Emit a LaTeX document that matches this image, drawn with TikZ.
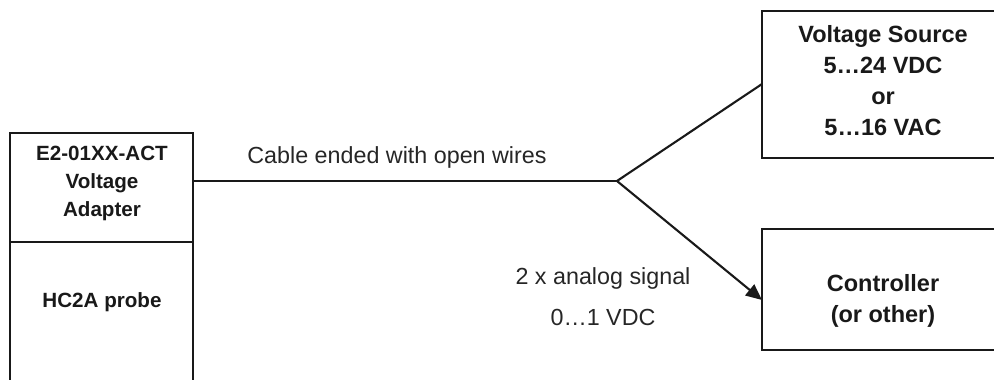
\documentclass[tikz,border=0pt]{standalone}
\usepackage{fontspec}
\setmainfont{Liberation Sans}
\usetikzlibrary{arrows.meta}
\begin{document}
\begin{tikzpicture}[x=1pt,y=-1pt,
  line/.style={line width=2.1pt, color=black!90},
  bigtxt/.style={font=\fontsize{23.5}{31}\selectfont\bfseries, align=center, inner sep=0pt, text=black!90},
  smalltxt/.style={font=\fontsize{20.6}{28}\selectfont\bfseries, align=center, inner sep=0pt, text=black!90},
  lbl/.style={font=\fontsize{23.3}{41}\selectfont, align=center, inner sep=0pt, text=black!85}]
\useasboundingbox (0,0) rectangle (994,380);
% left box
\coordinate (lbl0) at (10,380);
\coordinate (ltl) at (10,133);
\coordinate (ltr) at (193,133);
\coordinate (lbr) at (193,380);
\coordinate (ldl) at (10,242);
\coordinate (ldr) at (193,242);
\draw[line] (lbl0) -- (ltl) -- (ltr) -- (lbr);
\draw[line width=2.8pt, color=black!90] (ldl) -- (ldr);
\node[smalltxt] (adapter) at (102,183) {E2-01XX-ACT\\Voltage\\Adapter};
\node[smalltxt] (probe) at (102,302) {HC2A probe};
% voltage source box
\coordinate (vtr) at (996,11);
\coordinate (vtl) at (762,11);
\coordinate (vbl) at (762,158);
\coordinate (vbr) at (996,158);
\draw[line] (vtr) -- (vtl) -- (vbl) -- (vbr);
\node[bigtxt] (vsrc) at (883,81) {Voltage Source\\5…24 VDC\\or\\5…16 VAC};
% controller box
\coordinate (ctr) at (996,229);
\coordinate (ctl) at (762,229);
\coordinate (cbl) at (762,350);
\coordinate (cbr) at (996,350);
\draw[line] (ctr) -- (ctl) -- (cbl) -- (cbr);
\node[bigtxt] (ctrl) at (883,301) {Controller\\(or other)};
% connectors
\coordinate (cabstart) at (193,181);
\coordinate (split) at (617,181);
\coordinate (vin) at (762,84);
\coordinate (cin) at (762,300);
\draw[line] (cabstart) -- (split);
\draw[line] (split) -- (vin);
\draw[line, -{Triangle[length=16pt,width=14pt]}] (split) -- (cin);
% labels
\node[lbl] (cablelbl) at (397,157) {Cable ended with open wires};
\node[lbl] (siglbl) at (603,297) {2 x analog signal\\0…1 VDC};
\end{tikzpicture}
\end{document}
